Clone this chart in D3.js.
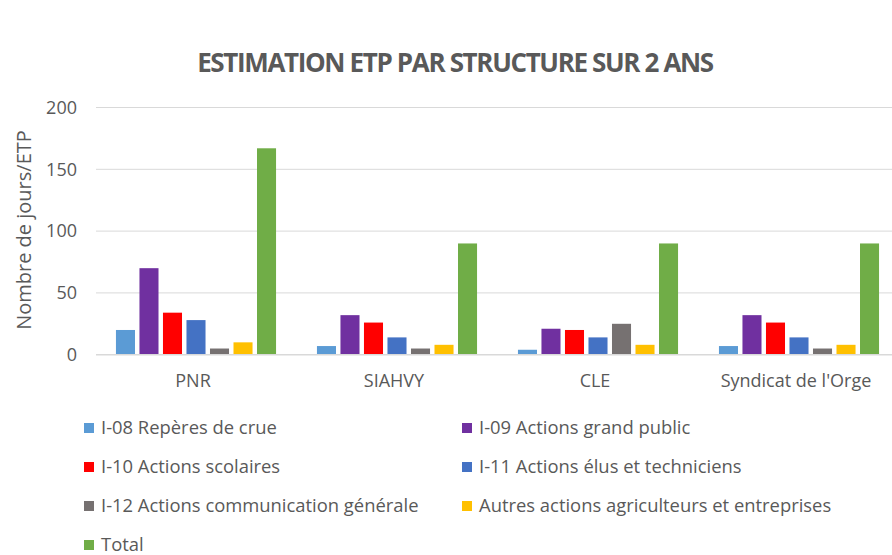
<!DOCTYPE html>
<html>
<head>
<meta charset="utf-8">
<script src="https://cdn.jsdelivr.net/npm/d3@7"></script>
<style>
  body { margin: 0; background: #fff; }
  text { font-family: 'Open Sans', sans-serif; fill: #595959; }
</style>
</head>
<body>
<div id="chart"></div>
<script>
const width = 892
const height = 555

const categories = ['PNR', 'SIAHVY', 'CLE', "Syndicat de l'Orge"]
const seriesNames = [
  'I-08 Repères de crue',
  'I-09 Actions grand public',
  'I-10 Actions scolaires',
  'I-11 Actions élus et techniciens',
  'I-12 Actions communication générale',
  'Autres actions agriculteurs et entreprises',
  'Total'
]
const i08 = [20, 7, 4, 7]
const i09 = [70, 32, 21, 32]
const i10 = [34, 26, 20, 26]
const i11 = [28, 14, 14, 14]
const i12 = [5, 5, 25, 5]
const autres = [10, 8, 8, 8]
const total = [167, 90, 90, 90]
const yTicks = [0, 50, 100, 150, 200]

const seriesValues = [i08, i09, i10, i11, i12, autres, total]
const colors = ['#5B9BD5', '#7030A0', '#FF0000', '#4472C4', '#767171', '#FFC000', '#70AD47']

const svg = d3.select('#chart')
  .append('svg')
  .attr('width', width)
  .attr('height', height)

const x0 = d3.scaleBand()
  .domain(categories)
  .range([95.5, 899.5])

const x1 = d3.scaleBand()
  .domain(seriesNames)
  .range([0, x0.bandwidth()])
  .paddingInner(0.19)
  .paddingOuter(0.87)

const y = d3.scaleLinear()
  .domain([0, 200])
  .range([354.7, 107.5])

// gridlines
svg.append('g')
  .selectAll('line')
  .data(yTicks.filter((d) => d > 0))
  .enter()
  .append('line')
  .attr('x1', 96)
  .attr('x2', width)
  .attr('y1', (d) => y(d))
  .attr('y2', (d) => y(d))
  .attr('stroke', '#d9d9d9')
  .attr('stroke-width', 1)

// y tick labels
svg.append('g')
  .selectAll('text')
  .data(yTicks)
  .enter()
  .append('text')
  .attr('x', 77)
  .attr('y', (d) => y(d))
  .attr('dy', '0.35em')
  .attr('text-anchor', 'end')
  .style('font-size', '18px')
  .text((d) => d)

// bars
const groups = svg.append('g')
  .selectAll('g')
  .data(categories)
  .enter()
  .append('g')
  .attr('transform', (d) => `translate(${x0(d)}, 0)`)

groups.selectAll('rect')
  .data((c, ci) => seriesNames.map((s, si) => ({ s, si, v: seriesValues[si][ci] })))
  .enter()
  .append('rect')
  .attr('x', (d) => x1(d.s))
  .attr('width', x1.bandwidth())
  .attr('y', (d) => y(d.v))
  .attr('height', (d) => y(0) - y(d.v))
  .attr('fill', (d) => colors[d.si])

// baseline
svg.append('line')
  .attr('x1', 96)
  .attr('x2', width)
  .attr('y1', y(0))
  .attr('y2', y(0))
  .attr('stroke', '#d9d9d9')
  .attr('stroke-width', 1.5)

// category labels
svg.append('g')
  .selectAll('text')
  .data(categories)
  .enter()
  .append('text')
  .attr('x', (d) => x0(d) + x0.bandwidth() / 2 - 3)
  .attr('y', 387)
  .attr('text-anchor', 'middle')
  .style('font-size', '18px')
  .text((d) => d)

// axis title
svg.append('text')
  .attr('transform', 'translate(31, 230) rotate(-90)')
  .attr('text-anchor', 'middle')
  .style('font-size', '20px')
  .text('Nombre de jours/ETP')

// chart title
svg.append('text')
  .attr('x', 455)
  .attr('y', 72)
  .attr('text-anchor', 'middle')
  .style('font-size', '26px')
  .style('font-weight', 'bold')
  .style('letter-spacing', '-1.35px')
  .text('ESTIMATION ETP PAR STRUCTURE SUR 2 ANS')

// legend
const legend = svg.append('g')
  .selectAll('g')
  .data(seriesNames)
  .enter()
  .append('g')
  .attr('transform', (d, i) => `translate(${i % 2 ? 462 : 84}, ${428 + Math.floor(i / 2) * 39})`)

legend.append('rect')
  .attr('x', 0)
  .attr('y', -5)
  .attr('width', 10)
  .attr('height', 10)
  .attr('fill', (d, i) => colors[i])

legend.append('text')
  .attr('x', 17)
  .attr('y', 0)
  .attr('dy', '0.35em')
  .style('font-size', '18.4px')
  .text((d) => d)
</script>
</body>
</html>
